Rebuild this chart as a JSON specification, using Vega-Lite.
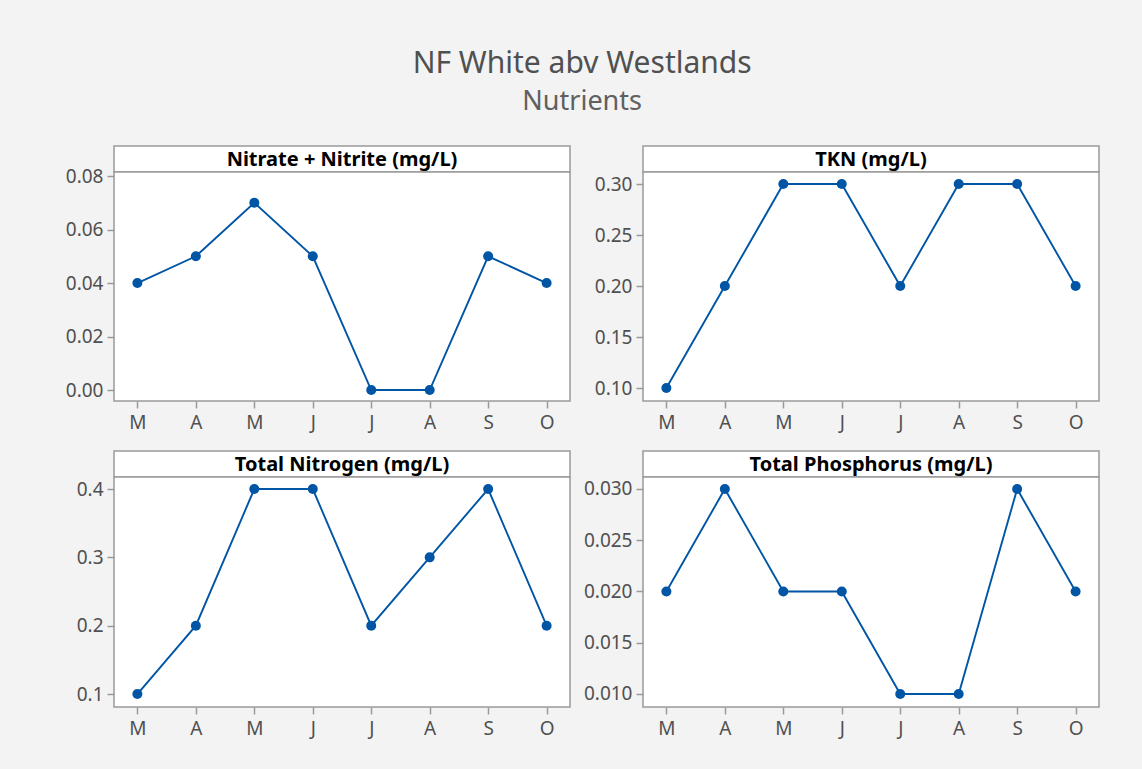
{
  "$schema": "https://vega.github.io/schema/vega-lite/v6.json",
  "background": "#f3f3f3",
  "padding": {"left": 64, "top": 49, "right": 42, "bottom": 32},
  "title": {
    "text": "NF White abv Westlands",
    "subtitle": "Nutrients",
    "fontSize": 30,
    "subtitleFontSize": 27,
    "font": "Noto Sans",
    "subtitleFont": "Noto Sans",
    "fontWeight": "normal",
    "color": "#505050",
    "subtitleColor": "#606060",
    "anchor": "middle",
    "offset": 30,
    "subtitlePadding": 10
  },
  "datasets": {
    "nut": [
      {"panel": "NN", "month": "Mar", "value": 0.04},
      {"panel": "NN", "month": "Apr", "value": 0.05},
      {"panel": "NN", "month": "May", "value": 0.07},
      {"panel": "NN", "month": "Jun", "value": 0.05},
      {"panel": "NN", "month": "Jul", "value": 0.0},
      {"panel": "NN", "month": "Aug", "value": 0.0},
      {"panel": "NN", "month": "Sep", "value": 0.05},
      {"panel": "NN", "month": "Oct", "value": 0.04},
      {"panel": "TKN", "month": "Mar", "value": 0.1},
      {"panel": "TKN", "month": "Apr", "value": 0.2},
      {"panel": "TKN", "month": "May", "value": 0.3},
      {"panel": "TKN", "month": "Jun", "value": 0.3},
      {"panel": "TKN", "month": "Jul", "value": 0.2},
      {"panel": "TKN", "month": "Aug", "value": 0.3},
      {"panel": "TKN", "month": "Sep", "value": 0.3},
      {"panel": "TKN", "month": "Oct", "value": 0.2},
      {"panel": "TN", "month": "Mar", "value": 0.1},
      {"panel": "TN", "month": "Apr", "value": 0.2},
      {"panel": "TN", "month": "May", "value": 0.4},
      {"panel": "TN", "month": "Jun", "value": 0.4},
      {"panel": "TN", "month": "Jul", "value": 0.2},
      {"panel": "TN", "month": "Aug", "value": 0.3},
      {"panel": "TN", "month": "Sep", "value": 0.4},
      {"panel": "TN", "month": "Oct", "value": 0.2},
      {"panel": "TP", "month": "Mar", "value": 0.02},
      {"panel": "TP", "month": "Apr", "value": 0.03},
      {"panel": "TP", "month": "May", "value": 0.02},
      {"panel": "TP", "month": "Jun", "value": 0.02},
      {"panel": "TP", "month": "Jul", "value": 0.01},
      {"panel": "TP", "month": "Aug", "value": 0.01},
      {"panel": "TP", "month": "Sep", "value": 0.03},
      {"panel": "TP", "month": "Oct", "value": 0.02}
    ],
    "titles": [
      {"panel": "NN", "t": "Nitrate + Nitrite (mg/L)"},
      {"panel": "TKN", "t": "TKN (mg/L)"},
      {"panel": "TN", "t": "Total Nitrogen (mg/L)"},
      {"panel": "TP", "t": "Total Phosphorus (mg/L)"}
    ]
  },
  "columns": 2,
  "spacing": {"row": 17, "column": 11},
  "concat": [
    {
      "spacing": 0,
      "bounds": "flush",
      "vconcat": [
        {"width": 456, "height": 26, "data": {"name": "titles"}, "transform": [{"filter": "datum.panel === 'NN'"}], "mark": {"type": "text", "fontWeight": "bold", "fontSize": 20, "font": "Noto Sans", "color": "black", "dy": 1}, "encoding": {"x": {"field": "t", "type": "nominal", "axis": null}, "y": {"field": "t", "type": "nominal", "axis": null}, "text": {"field": "t"}}},
        {"width": 456, "height": 229, "data": {"name": "nut"}, "transform": [{"filter": "datum.panel === 'NN'"}],
         "encoding": {
           "x": {"field": "month", "type": "ordinal", "sort": ["Mar","Apr","May","Jun","Jul","Aug","Sep","Oct"], "scale": {"type": "point", "padding": 0.4}, "axis": {"labelExpr": "slice(datum.label,0,1)"}, "title": null},
           "y": {"field": "value", "type": "quantitative", "scale": {"domain": [-0.0041, 0.0815], "nice": false, "zero": false}, "axis": {"values": [0, 0.02, 0.04, 0.06, 0.08], "format": ".2f"}, "title": null}
         },
         "layer": [
           {"mark": {"type": "line", "color": "#0055a5", "strokeWidth": 1.9}},
           {"mark": {"type": "point", "filled": true, "color": "#0055a5", "size": 100, "opacity": 1}}
         ]}
      ]
    },
    {
      "spacing": 0,
      "bounds": "flush",
      "vconcat": [
        {"width": 456, "height": 26, "data": {"name": "titles"}, "transform": [{"filter": "datum.panel === 'TKN'"}], "mark": {"type": "text", "fontWeight": "bold", "fontSize": 20, "font": "Noto Sans", "color": "black", "dy": 1}, "encoding": {"x": {"field": "t", "type": "nominal", "axis": null}, "y": {"field": "t", "type": "nominal", "axis": null}, "text": {"field": "t"}}},
        {"width": 456, "height": 229, "data": {"name": "nut"}, "transform": [{"filter": "datum.panel === 'TKN'"}],
         "encoding": {
           "x": {"field": "month", "type": "ordinal", "sort": ["Mar","Apr","May","Jun","Jul","Aug","Sep","Oct"], "scale": {"type": "point", "padding": 0.4}, "axis": {"labelExpr": "slice(datum.label,0,1)"}, "title": null},
           "y": {"field": "value", "type": "quantitative", "scale": {"domain": [0.0873, 0.3118], "nice": false, "zero": false}, "axis": {"values": [0.1, 0.15, 0.2, 0.25, 0.3], "format": ".2f"}, "title": null}
         },
         "layer": [
           {"mark": {"type": "line", "color": "#0055a5", "strokeWidth": 1.9}},
           {"mark": {"type": "point", "filled": true, "color": "#0055a5", "size": 100, "opacity": 1}}
         ]}
      ]
    },
    {
      "spacing": 0,
      "bounds": "flush",
      "vconcat": [
        {"width": 456, "height": 26, "data": {"name": "titles"}, "transform": [{"filter": "datum.panel === 'TN'"}], "mark": {"type": "text", "fontWeight": "bold", "fontSize": 20, "font": "Noto Sans", "color": "black", "dy": 1}, "encoding": {"x": {"field": "t", "type": "nominal", "axis": null}, "y": {"field": "t", "type": "nominal", "axis": null}, "text": {"field": "t"}}},
        {"width": 456, "height": 230, "data": {"name": "nut"}, "transform": [{"filter": "datum.panel === 'TN'"}],
         "encoding": {
           "x": {"field": "month", "type": "ordinal", "sort": ["Mar","Apr","May","Jun","Jul","Aug","Sep","Oct"], "scale": {"type": "point", "padding": 0.4}, "axis": {"labelExpr": "slice(datum.label,0,1)"}, "title": null},
           "y": {"field": "value", "type": "quantitative", "scale": {"domain": [0.081, 0.4176], "nice": false, "zero": false}, "axis": {"values": [0.1, 0.2, 0.3, 0.4], "format": ".1f"}, "title": null}
         },
         "layer": [
           {"mark": {"type": "line", "color": "#0055a5", "strokeWidth": 1.9}},
           {"mark": {"type": "point", "filled": true, "color": "#0055a5", "size": 100, "opacity": 1}}
         ]}
      ]
    },
    {
      "spacing": 0,
      "bounds": "flush",
      "vconcat": [
        {"width": 456, "height": 26, "data": {"name": "titles"}, "transform": [{"filter": "datum.panel === 'TP'"}], "mark": {"type": "text", "fontWeight": "bold", "fontSize": 20, "font": "Noto Sans", "color": "black", "dy": 1}, "encoding": {"x": {"field": "t", "type": "nominal", "axis": null}, "y": {"field": "t", "type": "nominal", "axis": null}, "text": {"field": "t"}}},
        {"width": 456, "height": 230, "data": {"name": "nut"}, "transform": [{"filter": "datum.panel === 'TP'"}],
         "encoding": {
           "x": {"field": "month", "type": "ordinal", "sort": ["Mar","Apr","May","Jun","Jul","Aug","Sep","Oct"], "scale": {"type": "point", "padding": 0.4}, "axis": {"labelExpr": "slice(datum.label,0,1)"}, "title": null},
           "y": {"field": "value", "type": "quantitative", "scale": {"domain": [0.00873, 0.03117], "nice": false, "zero": false}, "axis": {"values": [0.01, 0.015, 0.02, 0.025, 0.03], "format": ".3f"}, "title": null}
         },
         "layer": [
           {"mark": {"type": "line", "color": "#0055a5", "strokeWidth": 1.9}},
           {"mark": {"type": "point", "filled": true, "color": "#0055a5", "size": 100, "opacity": 1}}
         ]}
      ]
    }
  ],
  "config": {
    "font": "Noto Sans",
    "view": {"stroke": "#9a9a9a", "strokeWidth": 1.5, "fill": "white"},
    "axis": {
      "domain": false,
      "grid": false,
      "ticks": true,
      "tickColor": "#9a9a9a",
      "tickWidth": 1.5,
      "tickSize": 7,
      "labelFont": "Noto Sans",
      "labelFontSize": 19,
      "labelColor": "#505050",
      "labelPadding": 4
    },
    "axisX": {"labelPadding": 5, "labelAngle": 0},
    "axisY": {"labelPadding": 4}
  }
}
